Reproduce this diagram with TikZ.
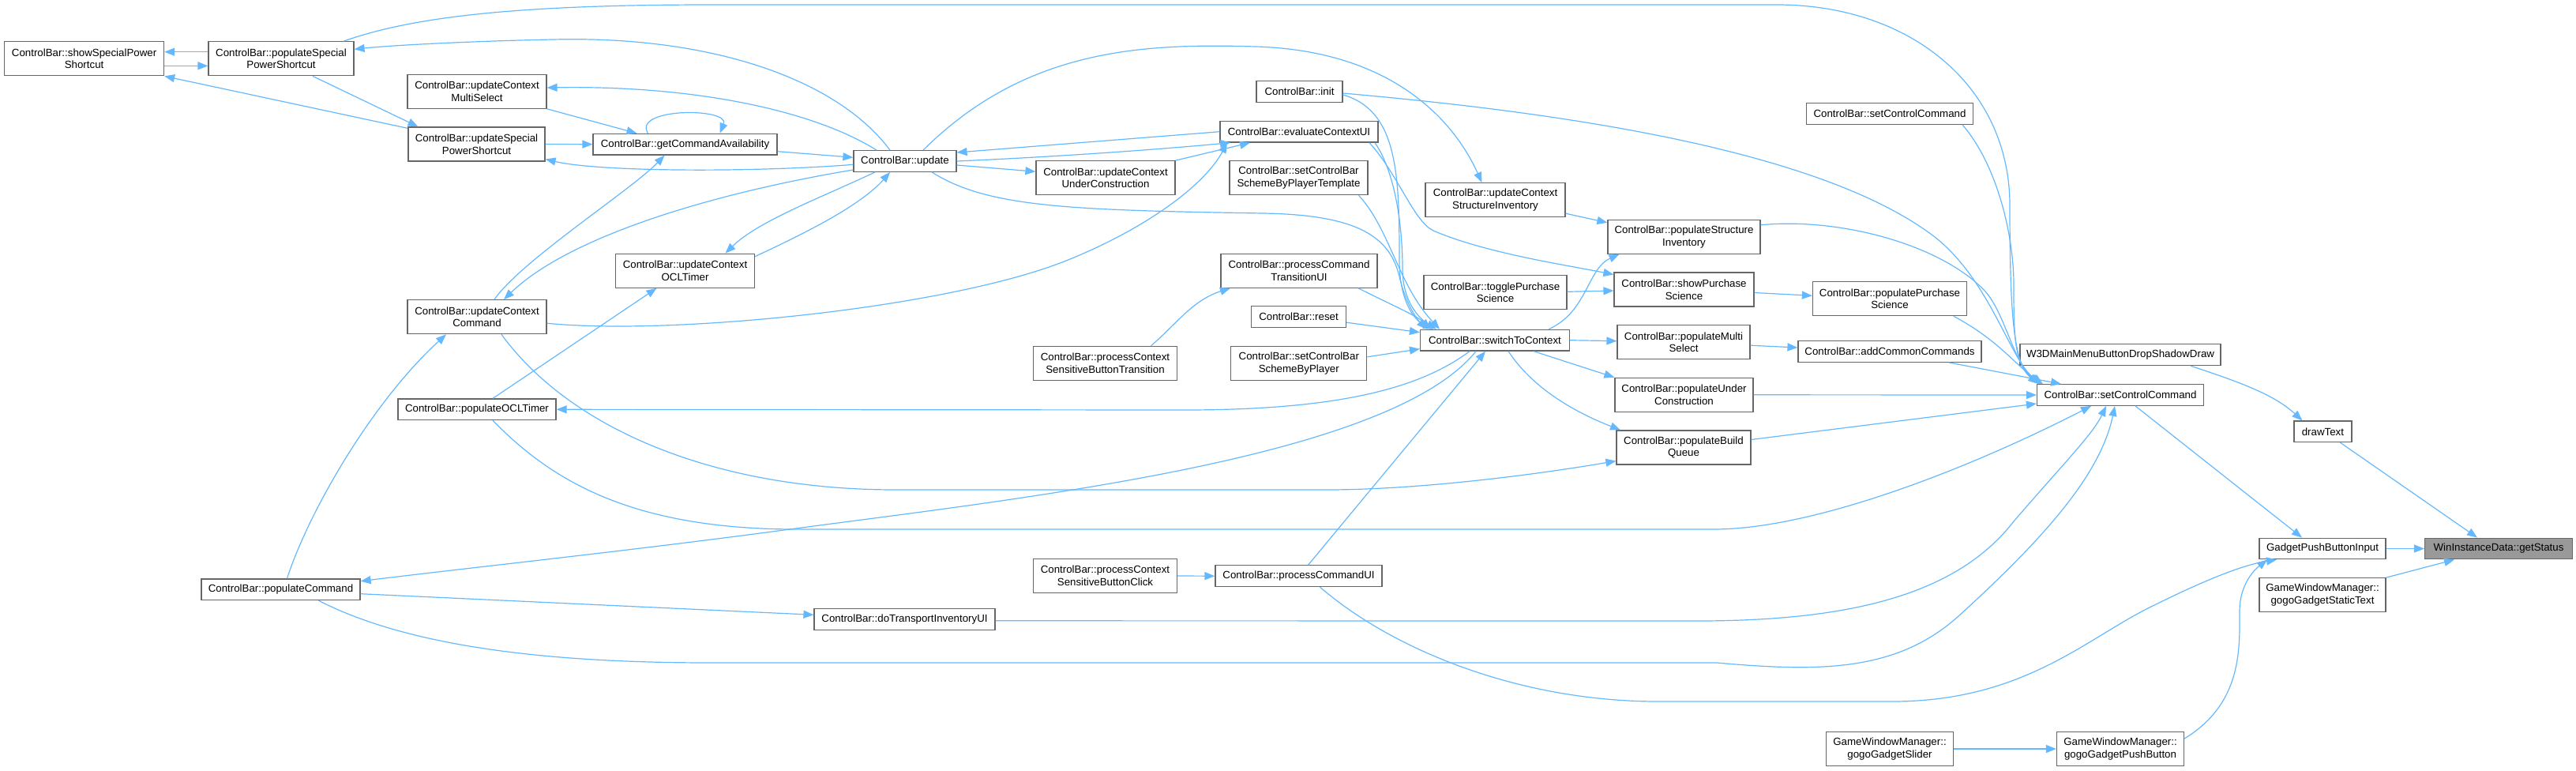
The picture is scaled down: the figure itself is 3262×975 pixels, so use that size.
\documentclass[tikz,border=0pt]{standalone}
\usepackage{fontspec}
\setmainfont{Liberation Sans}
\usetikzlibrary{arrows.meta}
\definecolor{edgeblue}{RGB}{99,184,255}
\definecolor{boxgrey}{RGB}{102,102,102}
\definecolor{hilite}{RGB}{153,153,153}
\tikzset{
  fn/.style={draw=boxgrey,fill=white,line width=1.2pt,font=\fontsize{13.3}{15.7}\selectfont,align=center,inner sep=0pt,minimum height=26.7pt,minimum width=#1pt},
  fn2/.style={fn=#1,minimum height=43pt},
  calls/.style={edgeblue,line width=1.2pt,-{Triangle[length=13pt,width=10pt]}}
}
\begin{document}
\begin{tikzpicture}[x=1pt,y=-1pt]
\useasboundingbox (0,0) rectangle (3262,975);
\node[fn2=202] (showSpec) at (106.6,74.3) {ControlBar::showSpecialPower\\Shortcut};
\node[fn2=184] (popSpec) at (356,74.3) {ControlBar::populateSpecial\\PowerShortcut};
\node[fn2=176] (updMulti) at (604,115.7) {ControlBar::updateContext\\MultiSelect};
\node[fn2=173] (updSpec) at (603.5,182.5) {ControlBar::updateSpecial\\PowerShortcut};
\node[fn=233] (getCmd) at (867.5,182.7) {ControlBar::getCommandAvailability};
\node[fn=130] (update) at (1146,204) {ControlBar::update};
\node[fn2=176] (updOCL) at (867.5,342.7) {ControlBar::updateContext\\OCLTimer};
\node[fn2=176] (updCmd) at (604,401.2) {ControlBar::updateContext\\Command};
\node[fn=200] (popOCL) at (604,518.3) {ControlBar::populateOCLTimer};
\node[fn=201] (popCmd) at (355.5,746.3) {ControlBar::populateCommand};
\node[fn=229] (doTrans) at (1145.5,783.8) {ControlBar::doTransportInventoryUI};
\node[fn=109] (init) at (1645.5,116) {ControlBar::init};
\node[fn=200] (evalCtx) at (1645,166.7) {ControlBar::evaluateContextUI};
\node[fn2=176] (updUnder) at (1400,225.2) {ControlBar::updateContext\\UnderConstruction};
\node[fn2=175] (setSchemeTpl) at (1644.5,225.2) {ControlBar::setControlBar\\SchemeByPlayerTemplate};
\node[fn2=177] (updStruct) at (1893.5,253.2) {ControlBar::updateContext\\StructureInventory};
\node[fn2=193] (popStruct) at (2132.5,299.8) {ControlBar::populateStructure\\Inventory};
\node[fn=211] (setCtrlTop) at (2393,144) {ControlBar::setControlCommand};
\node[fn2=198] (procTrans) at (1645,342.7) {ControlBar::processCommand\\TransitionUI};
\node[fn2=181] (toggle) at (1893.5,370.3) {ControlBar::togglePurchase\\Science};
\node[fn=120] (reset) at (1644.5,401.2) {ControlBar::reset};
\node[fn=189] (switch) at (1893,430.7) {ControlBar::switchToContext};
\node[fn2=182] (procCtxTrans) at (1399.5,459.8) {ControlBar::processContext\\SensitiveButtonTransition};
\node[fn2=172] (setScheme) at (1644.8,459.8) {ControlBar::setControlBar\\SchemeByPlayer};
\node[fn2=177] (showPurch) at (2132.5,366.5) {ControlBar::showPurchase\\Science};
\node[fn2=195] (popPurch) at (2393,378.3) {ControlBar::populatePurchase\\Science};
\node[fn2=168] (popMulti) at (2132,433.2) {ControlBar::populateMulti\\Select};
\node[fn=232] (addCommon) at (2393,445) {ControlBar::addCommonCommands};
\node[fn2=175] (popUnder) at (2132.5,499.8) {ControlBar::populateUnder\\Construction};
\node[fn2=170] (popBuild) at (2132,566.5) {ControlBar::populateBuild\\Queue};
\node[fn=254] (w3d) at (2685,449.2) {W3DMainMenuButtonDropShadowDraw};
\node[fn=211] (setCtrl) at (2685,500) {ControlBar::setControlCommand};
\node[fn=73] (drawText) at (2941.4,546.3) {drawText};
\node[fn2=182] (procCtxClick) at (1399.5,729) {ControlBar::processContext\\SensitiveButtonClick};
\node[fn=211] (procCmdUI) at (1644.5,729.2) {ControlBar::processCommandUI};
\node[fn=160] (gadgetPBI) at (2941,694.5) {GadgetPushButtonInput};
\node[fn=187,fill=hilite] (getStatus) at (3164,694.5) {WinInstanceData::getStatus};
\node[fn2=160] (staticText) at (2941,753.2) {GameWindowManager::\\gogoGadgetStaticText};
\node[fn2=161] (slider) at (2393,948) {GameWindowManager::\\gogoGadgetSlider};
\node[fn2=161] (pushBtn) at (2685,948) {GameWindowManager::\\gogoGadgetPushButton};

\draw[calls] ([xshift=79pt]popSpec.north) .. controls (520,22) and (650,6) .. (900,6) -- (2250,6) .. controls (2420,6) and (2545,110) .. (2545,260) .. controls (2545,400) and (2550,460) .. ([xshift=-104pt]setCtrl.north);
\draw[calls] ([xshift=-19pt]update.north) .. controls (1060,100) and (900,45) .. (700,50) .. controls (600,52) and (500,57) .. ([yshift=12pt]popSpec.east);
\draw[calls] ([yshift=8.6pt]popSpec.west) -- ([yshift=8.6pt]showSpec.east);
\draw[calls] ([yshift=-9pt]showSpec.east) -- ([yshift=-9pt]popSpec.west);
\draw[calls] ([yshift=-2pt]updSpec.north west) -- (showSpec.south east);
\draw[calls] ([xshift=40pt]popSpec.south) -- ([xshift=-74pt]updSpec.north);
\draw[calls] ([xshift=-36pt]update.north) .. controls (1030,140) and (880,108) .. ([yshift=4.7pt]updMulti.east);
\draw[calls] (updMulti.south east) -- ([xshift=-61pt]getCmd.north);
\draw[calls] ([xshift=-47pt]getCmd.north) .. controls (800,136) and (925,136) .. ([xshift=44pt]getCmd.north);
\draw[calls] (updSpec.east) -- (getCmd.west);
\draw[calls] ([yshift=-9pt]getCmd.east) -- ([yshift=4.7pt]update.west);
\draw[calls] ([yshift=-4.3pt]update.west) .. controls (960,218) and (760,218) .. ([yshift=-19pt]updSpec.east);
\draw[calls] ([xshift=22pt]updCmd.north) .. controls (660,330) and (800,240) .. ([xshift=-26pt]getCmd.south);
\draw[calls] ([yshift=-11pt]update.west) .. controls (900,245) and (720,300) .. ([xshift=34pt]updCmd.north);
\draw[calls] ([xshift=-38pt]update.south) .. controls (1040,250) and (960,280) .. ([xshift=51pt]updOCL.north);
\draw[calls] ([yshift=18pt]updOCL.east) .. controls (1020,295) and (1090,260) .. ([xshift=-19pt]update.south);
\draw[calls] ([xshift=20pt]popOCL.north) -- ([xshift=-36pt]updOCL.south);
\draw[calls] ([xshift=-32pt]switch.south) .. controls (1800,490) and (1700,519) .. (1500,519) -- (popOCL.east);
\draw[calls] ([xshift=20pt]popOCL.south) .. controls (700,610) and (800,668) .. (1000,670) -- (2170,670) .. controls (2300,670) and (2500,590) .. ([xshift=-37pt]setCtrl.south);
\draw[calls] ([xshift=8pt]popCmd.north) .. controls (390,650) and (470,510) .. ([xshift=-39pt]updCmd.south);
\draw[calls] ([xshift=31pt]updCmd.south) .. controls (720,540) and (900,620) .. (1134,620) -- (1680,620) .. controls (1800,620) and (1950,600) .. ([yshift=-17pt]popBuild.west);
\draw[calls] ([xshift=-24pt]switch.south) .. controls (1760,580) and (1300,630) .. (1000,670) .. controls (800,697) and (600,718) .. ([yshift=10.6pt]popCmd.east);
\draw[calls] ([yshift=-5.4pt]popCmd.east) -- ([yshift=5.5pt]doTrans.west);
\draw[calls] ([xshift=48pt]popCmd.south) .. controls (520,820) and (700,839) .. (900,839) -- (2174,839) .. controls (2300,850) and (2400,852) .. (2480,780) .. controls (2590,680) and (2660,600) .. ([xshift=-7pt]setCtrl.south);
\draw[calls] ([yshift=-2pt]doTrans.east) -- (2150,786) .. controls (2350,786) and (2480,750) .. (2550,660) .. controls (2610,590) and (2650,550) .. ([xshift=-18pt]setCtrl.south);
\draw[calls] ([xshift=12pt]procCmdUI.north) -- ([xshift=-12pt]switch.south);
\draw[calls] ([xshift=27pt]procCmdUI.south) .. controls (1760,820) and (1920,888) .. (2100,888) -- (2396,888) .. controls (2560,888) and (2640,810) .. (2720,770) .. controls (2790,735) and (2840,715) .. ([xshift=-58pt]gadgetPBI.south);
\draw[calls] ([yshift=13pt]pushBtn.east) .. controls (2840,890) and (2836,820) .. (2836,773) .. controls (2836,745) and (2850,725) .. ([xshift=-70pt]gadgetPBI.south);
\draw[calls] (slider.east) -- (pushBtn.west);
\draw[calls] (gadgetPBI.east) -- (getStatus.west);
\draw[calls] (staticText.north east) -- ([xshift=-56pt]getStatus.south);
\draw[calls] ([xshift=22pt]drawText.south) -- ([xshift=-27pt]getStatus.north);
\draw[calls] ([xshift=19pt]setCtrl.south) -- ([xshift=-26pt]gadgetPBI.north);
\draw[calls] ([xshift=89pt]w3d.south) .. controls (2840,485) and (2880,500) .. ([xshift=-26pt]drawText.north);
\draw[calls] ([yshift=-4pt]showPurch.east) -- ([yshift=4pt]popPurch.west);
\draw[calls] ([yshift=-4pt]popMulti.east) -- ([yshift=5pt]addCommon.west);
\draw[calls] ([xshift=81pt]popPurch.south) .. controls (2530,430) and (2552,462) .. ([xshift=-98pt]setCtrl.north);
\draw[calls] ([xshift=75pt]addCommon.south) -- ([xshift=-75pt]setCtrl.north);
\draw[calls] (popUnder.east) -- (setCtrl.west);
\draw[calls] ([yshift=10pt]popBuild.east) -- ([yshift=-11pt]setCtrl.west);
\draw[calls] ([yshift=15pt]popStruct.east) .. controls (2330,275) and (2460,310) .. (2515,370) .. controls (2540,400) and (2550,460) .. ([xshift=-101pt]setCtrl.north);
\draw[calls] ([xshift=92pt]setCtrlTop.south) .. controls (2530,210) and (2550,300) .. (2550,360) .. controls (2550,420) and (2550,462) .. ([xshift=-102pt]setCtrl.north);
\draw[calls] ([yshift=-2pt]init.east) .. controls (1950,140) and (2300,185) .. (2450,300) .. controls (2520,355) and (2545,455) .. ([xshift=-100pt]setCtrl.north);
\draw[calls] ([xshift=68pt]switch.north) .. controls (2010,395) and (2010,340) .. ([xshift=-82pt]popStruct.south);
\draw[calls] ([yshift=-17pt]updStruct.east) -- ([yshift=18pt]popStruct.west);
\draw[calls] ([xshift=23pt]update.north) .. controls (1300,60) and (1450,55) .. (1590,59) .. controls (1760,64) and (1840,150) .. ([xshift=-17pt]updStruct.north);
\draw[calls] (evalCtx.west) -- ([yshift=11pt]update.east);
\draw[calls] (update.east) .. controls (1350,198) and (1480,188) .. ([xshift=-87pt]evalCtx.south);
\draw[calls] ([yshift=-5pt]update.east) -- ([yshift=8pt]updUnder.west);
\draw[calls] (updUnder.north east) -- ([xshift=-62pt]evalCtx.south);
\draw[calls] ([yshift=-8pt]updCmd.east) .. controls (850,425) and (1200,390) .. (1350,330) .. controls (1450,290) and (1525,235) .. ([xshift=-91pt]evalCtx.south);
\draw[calls] ([xshift=34pt]update.south) .. controls (1250,262) and (1350,266) .. (1600,270) .. controls (1720,272) and (1760,300) .. (1772,350) .. controls (1780,385) and (1795,405) .. ([xshift=-86pt]switch.north);
\draw[calls] ([yshift=-4pt]init.east) .. controls (1770,140) and (1772,220) .. (1772,330) .. controls (1772,380) and (1790,405) .. ([xshift=-78pt]switch.north);
\draw[calls] ([xshift=96pt]evalCtx.south) .. controls (1765,215) and (1776,280) .. (1776,340) .. controls (1776,385) and (1800,405) .. ([xshift=-74pt]switch.north);
\draw[calls] ([xshift=89pt]evalCtx.south) .. controls (1770,220) and (1790,280) .. (1815,292) .. controls (1880,320) and (1980,335) .. ([yshift=19pt]showPurch.west);
\draw[calls] ([xshift=76pt]setSchemeTpl.south) .. controls (1760,290) and (1770,360) .. ([xshift=-70pt]switch.north);
\draw[calls] ([xshift=75pt]procTrans.south) .. controls (1760,385) and (1795,400) .. ([xshift=-82pt]switch.north);
\draw[calls] ([yshift=-7pt]reset.east) -- ([yshift=10pt]switch.west);
\draw[calls] ([yshift=8pt]setScheme.east) -- ([yshift=-11pt]switch.west);
\draw[calls] ([yshift=1pt]toggle.east) -- ([yshift=-1.5pt]showPurch.west);
\draw[calls] (switch.east) -- ([yshift=1.5pt]popMulti.west);
\draw[calls] ([xshift=49pt]switch.south) -- (popUnder.north west);
\draw[calls] ([xshift=17pt]switch.south) .. controls (1940,490) and (1990,520) .. ([xshift=-80pt]popBuild.north);
\draw[calls] ([xshift=58pt]procCtxTrans.north) .. controls (1490,410) and (1510,380) .. ([xshift=-87pt]procTrans.south);
\draw[calls] (procCtxClick.east) -- (procCmdUI.west);
\end{tikzpicture}
\end{document}
